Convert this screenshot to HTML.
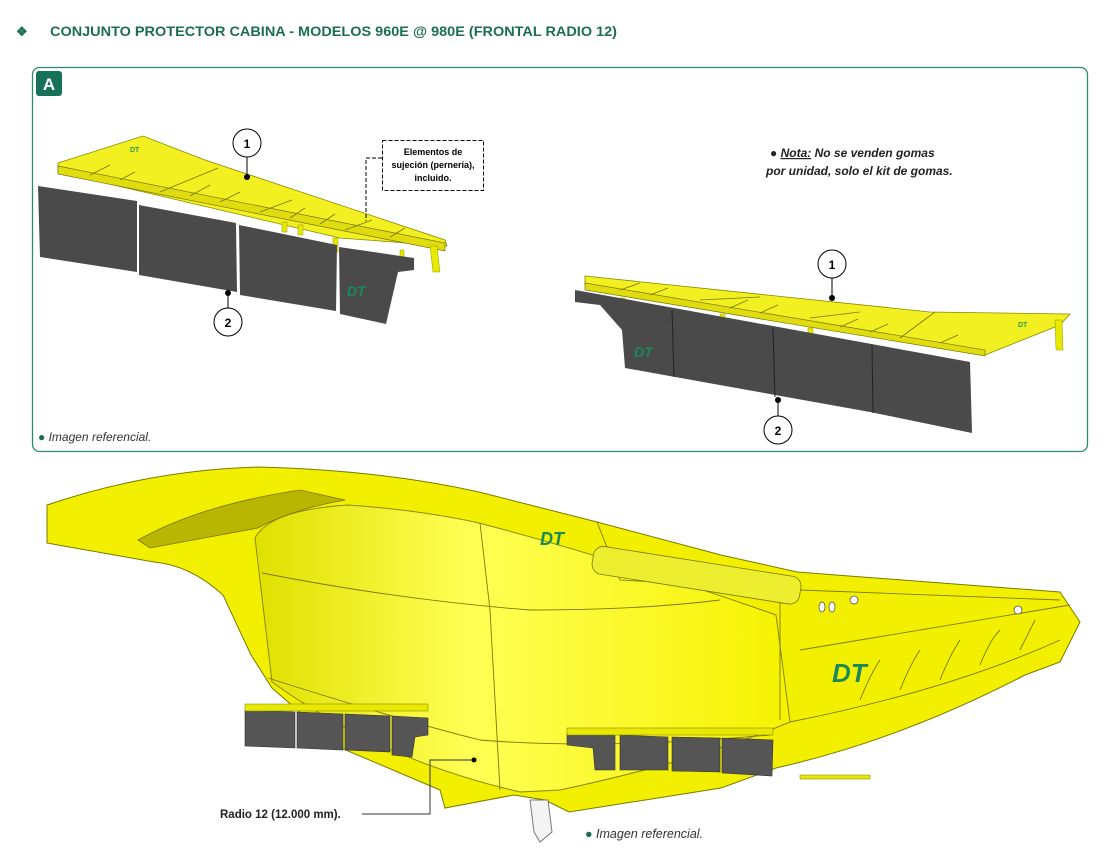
<!DOCTYPE html>
<html><head><meta charset="utf-8"><style>
body{margin:0;background:#fff;width:1119px;height:854px;overflow:hidden;font-family:"Liberation Sans",sans-serif;}
svg{position:absolute;left:0;top:0}
</style></head><body>
<svg width="1119" height="854" viewBox="0 0 1119 854" xmlns="http://www.w3.org/2000/svg">
<defs>
<linearGradient id="cyl" x1="0" x2="1" y1="0" y2="0">
<stop offset="0" stop-color="#e0e000"/><stop offset="0.4" stop-color="#ffff55"/><stop offset="1" stop-color="#f6f200"/></linearGradient>
</defs>
<text x="16" y="36" font-size="13" fill="#1b6e55" font-weight="bold">❖</text>
<text x="50" y="36" font-size="14" fill="#1b6e55" font-weight="bold" textLength="567" lengthAdjust="spacingAndGlyphs">CONJUNTO PROTECTOR CABINA - MODELOS 960E @ 980E (FRONTAL RADIO 12)</text>
<rect x="32.5" y="67.5" width="1055" height="384" rx="7" fill="none" stroke="#2e8a6e" stroke-width="1.3"/>
<rect x="36" y="71" width="26" height="25" rx="3" fill="#17705a"/>
<text x="49" y="90" font-size="17" fill="#fff" font-weight="bold" text-anchor="middle">A</text>

<!-- left module -->
<polygon points="58,163 143,136 205,160 445,240 447,246 340,238 58,172" fill="#f2f020" stroke="#8a8a00" stroke-width="0.8"/>
<polygon points="58,166 445,243 445,251 58,174" fill="#e0dc10" stroke="#777700" stroke-width="0.7"/>
<g stroke="#777700" stroke-width="0.8" fill="none">
<line x1="160" y1="192" x2="218" y2="168"/><line x1="260" y1="212" x2="292" y2="200"/><line x1="345" y1="230" x2="372" y2="220"/>
<line x1="90" y1="175" x2="110" y2="165"/><line x1="120" y1="180" x2="135" y2="172"/><line x1="190" y1="196" x2="210" y2="185"/><line x1="220" y1="202" x2="240" y2="192"/><line x1="290" y1="218" x2="305" y2="208"/><line x1="320" y1="224" x2="335" y2="214"/><line x1="390" y1="237" x2="405" y2="228"/>
</g>
<text x="130" y="152" font-size="7" font-weight="bold" fill="#2a9a50">DT</text>
<g fill="#e8e800" stroke="#999900" stroke-width="0.5"><polygon points="430,246 437,246 440,272 433,272"/><rect x="282" y="222" width="5" height="10"/><rect x="298" y="225" width="5" height="10"/><rect x="333" y="238" width="5" height="14"/><rect x="400" y="250" width="4" height="8"/></g>
<polygon points="38,186 137,201 137,272 40,257" fill="#4a4a4a"/>
<polygon points="139,205 236,223 237,292 139,275" fill="#4a4a4a"/>
<polygon points="239,225 337,245 336,311 240,295" fill="#4a4a4a"/>
<polygon points="339,247 414,258 414,270 398,272 386,324 340,314" fill="#4a4a4a"/>
<text x="347" y="296" font-size="14" font-weight="bold" font-style="italic" fill="#1a8a5a">DT</text>
<circle cx="247" cy="143" r="14" fill="#fff" stroke="#000"/><text x="247" y="148" font-size="12" font-weight="bold" text-anchor="middle">1</text>
<line x1="247" y1="157" x2="247" y2="177" stroke="#000"/><circle cx="247" cy="177" r="3"/>
<circle cx="228" cy="322" r="14" fill="#fff" stroke="#000"/><text x="228" y="327" font-size="12" font-weight="bold" text-anchor="middle">2</text>
<line x1="228" y1="293" x2="228" y2="308" stroke="#000"/><circle cx="228" cy="293" r="3"/>
<rect x="382.5" y="140.5" width="101" height="50" fill="none" stroke="#000" stroke-dasharray="4,2"/>
<polyline points="382,158 366,158 366,221" fill="none" stroke="#000" stroke-dasharray="4,2"/>
<text x="433" y="155" font-size="9" font-weight="bold" text-anchor="middle">Elementos de</text>
<text x="433" y="168" font-size="9" font-weight="bold" text-anchor="middle">sujeción (pernería),</text>
<text x="433" y="181" font-size="9" font-weight="bold" text-anchor="middle">incluido.</text>

<text x="770" y="157" font-size="12" font-weight="bold" font-style="italic" fill="#222">● <tspan text-decoration="underline">Nota:</tspan> No se venden gomas</text>
<text x="766" y="175" font-size="12" font-weight="bold" font-style="italic" fill="#222">por unidad, solo el kit de gomas.</text>

<!-- right module -->
<polygon points="585,276 930,312 1070,314 1060,325 985,355 585,285" fill="#f2f020" stroke="#8a8a00" stroke-width="0.8"/>
<polygon points="585,283 985,350 985,356 585,290" fill="#e0dc10" stroke="#777700" stroke-width="0.7"/>
<g stroke="#777700" stroke-width="0.8" fill="none"><line x1="700" y1="300" x2="760" y2="297"/><line x1="810" y1="318" x2="860" y2="312"/><line x1="935" y1="312" x2="900" y2="338"/>
<line x1="620" y1="290" x2="640" y2="283"/><line x1="650" y1="295" x2="668" y2="288"/><line x1="730" y1="308" x2="748" y2="300"/><line x1="760" y1="313" x2="778" y2="305"/><line x1="840" y1="327" x2="858" y2="319"/><line x1="870" y1="332" x2="888" y2="324"/><line x1="940" y1="343" x2="958" y2="335"/></g>
<text x="1018" y="327" font-size="7" font-weight="bold" fill="#2a9a50">DT</text>
<g fill="#e8e800" stroke="#999900" stroke-width="0.5"><polygon points="1055,320 1062,320 1063,350 1056,350"/><rect x="620" y="298" width="5" height="10"/><rect x="720" y="314" width="5" height="12"/><rect x="808" y="328" width="5" height="10"/></g>
<polygon points="575,290 625,299 970,362 972,433 870,412 625,368 622,330 600,305 575,302" fill="#4a4a4a"/>
<g stroke="#222" stroke-width="1"><line x1="672" y1="310" x2="674" y2="377"/><line x1="773" y1="328" x2="775" y2="397"/><line x1="872" y1="345" x2="873" y2="413"/></g>
<text x="634" y="357" font-size="14" font-weight="bold" font-style="italic" fill="#1a8a5a">DT</text>
<circle cx="832" cy="264" r="14" fill="#fff" stroke="#000"/><text x="832" y="269" font-size="12" font-weight="bold" text-anchor="middle">1</text>
<line x1="832" y1="278" x2="832" y2="298" stroke="#000"/><circle cx="832" cy="298" r="3"/>
<circle cx="778" cy="430" r="14" fill="#fff" stroke="#000"/><text x="778" y="435" font-size="12" font-weight="bold" text-anchor="middle">2</text>
<line x1="778" y1="400" x2="778" y2="416" stroke="#000"/><circle cx="778" cy="400" r="3"/>
<text x="38" y="441" font-size="12" font-style="italic" fill="#333"><tspan fill="#1b6e55">●</tspan> Imagen referencial.</text>

<!-- bottom bucket -->
<path d="M47,505 Q150,470 258,467 Q380,470 479,492 L597,522 L721,555 L797,572 L1060,592 L1080,622 L1060,662 L1025,675 Q900,740 776,768 L721,788 L569,812 L545,800 L514,795 L445,808 L440,790 L341,748 L272,688 L251,655 L223,595 Q190,565 154,562 L58,545 L47,543 Z" fill="#f2f000" stroke="#7a7a00" stroke-width="1"/>
<path d="M138,540 Q200,505 300,490 L345,500 Q290,510 258,528 L150,548 Z" fill="#b8b600" stroke="#7a7a00" stroke-width="0.8"/>
<path d="M255,538 Q270,510 348,505 Q420,510 479,523 Q620,560 776,615 L790,722 Q700,760 560,790 L520,792 Q380,760 272,682 Z" fill="url(#cyl)" stroke="#8a8a00" stroke-width="1"/>
<g stroke="#7a7a00" stroke-width="0.9" fill="none">
<path d="M262,573 Q400,600 530,610 Q640,610 720,600"/>
<path d="M268,678 Q400,720 480,740 Q600,750 770,735"/>
<line x1="480" y1="523" x2="490" y2="610"/><line x1="490" y1="610" x2="500" y2="790"/>
<path d="M597,522 L620,580 L800,590 L1060,600"/>
<path d="M780,600 L780,720"/>
<path d="M790,722 Q950,690 1060,640"/>
<path d="M800,650 L1070,605"/>
<path d="M860,700 Q870,675 880,660"/><path d="M900,690 Q910,665 920,650"/><path d="M940,680 Q950,655 960,640"/><path d="M980,665 Q990,640 1000,630"/><path d="M1020,650 Q1030,630 1035,620"/>
</g>
<rect x="595" y="545" width="210" height="28" rx="10" transform="rotate(9 595 545)" fill="#eeee30" stroke="#7a7a00" stroke-width="0.8"/>
<g fill="#fff" stroke="#555" stroke-width="0.8"><ellipse cx="822" cy="607" rx="3" ry="5"/><ellipse cx="832" cy="607" rx="3" ry="5"/><circle cx="854" cy="600" r="4"/><circle cx="1018" cy="610" r="4"/></g>
<text x="832" y="682" font-size="26" font-weight="bold" font-style="italic" fill="#1a8a5a">DT</text>
<text x="540" y="545" font-size="18" font-weight="bold" font-style="italic" fill="#1a8a5a">DT</text>
<g fill="#555" stroke="#333" stroke-width="0.6">
<polygon points="245,710 295,712 295,748 245,746"/><polygon points="297,712 343,714 343,750 297,748"/><polygon points="345,714 390,716 390,752 345,750"/><polygon points="392,716 428,718 428,735 415,737 412,757 392,755"/>
<polygon points="567,733 615,735 615,770 595,770 593,748 567,745"/><polygon points="620,735 668,737 668,770 620,770"/><polygon points="672,737 720,738 720,772 672,771"/><polygon points="722,738 773,740 772,776 722,773"/>
</g>
<g fill="#e8e800" stroke="#7a7a00" stroke-width="0.5"><rect x="245" y="704" width="183" height="7"/><rect x="567" y="728" width="206" height="7"/></g>
<path d="M800,775 L870,775 L870,779 L800,779 Z" fill="#e8e800" stroke="#7a7a00" stroke-width="0.5"/>
<path d="M530,800 L548,800 L552,832 L540,842 L534,832 Z" fill="#f4f4f4" stroke="#777"/>
<text x="220" y="818" font-size="11.5" font-weight="bold" fill="#222">Radio 12 (12.000 mm).</text>
<polyline points="362,814 430,814 430,760 474,760" fill="none" stroke="#333"/><circle cx="474" cy="760" r="2.5"/>
<text x="585" y="838" font-size="12.5" font-style="italic" fill="#333"><tspan fill="#1b6e55">●</tspan> Imagen referencial.</text>
</svg>
</body></html>
